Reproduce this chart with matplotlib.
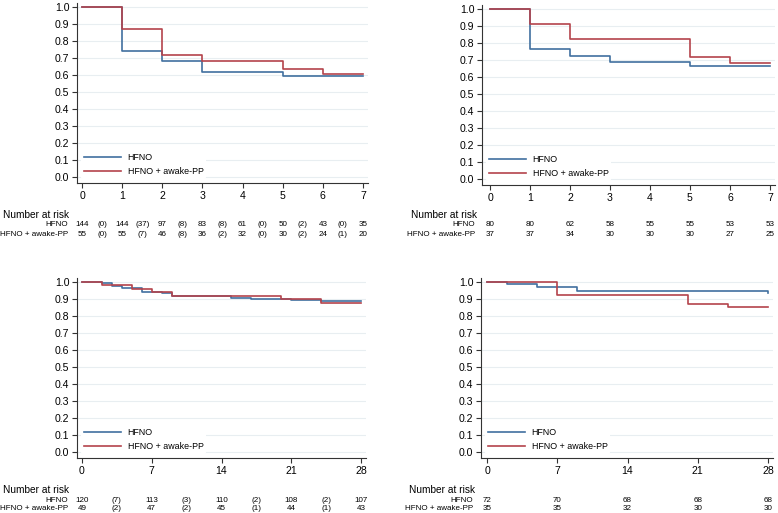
import matplotlib
matplotlib.use("Agg")
from matplotlib import pyplot as plt
from matplotlib.transforms import blended_transform_factory

plt.rcParams["font.family"] = ["Liberation Sans", "DejaVu Sans"]

# ---- survival curves (time, survival) ----
tl_t_hfno = [0, 1, 2, 3, 5, 7]
tl_s_hfno = [1.0, 0.743, 0.681, 0.616, 0.592, 0.592]
tl_t_pp = [0, 1, 2, 3, 5, 6, 7]
tl_s_pp = [1.0, 0.873, 0.721, 0.681, 0.636, 0.609, 0.609]

tr_t_hfno = [0, 1, 2, 3, 5, 7]
tr_s_hfno = [1.0, 0.767, 0.724, 0.690, 0.663, 0.663]
tr_t_pp = [0, 1, 2, 5, 6, 7]
tr_s_pp = [1.0, 0.912, 0.824, 0.716, 0.684, 0.684]

bl_t_hfno = [0, 2, 3, 4, 6, 8, 9, 15, 17, 21, 24, 28]
bl_s_hfno = [1.0, 0.992, 0.975, 0.967, 0.942, 0.933, 0.917, 0.908, 0.901, 0.894, 0.888, 0.888]
bl_t_pp = [0, 2, 5, 7, 9, 20, 24, 28]
bl_s_pp = [1.0, 0.980, 0.959, 0.939, 0.918, 0.898, 0.878, 0.878]

br_t_hfno = [0, 2, 5, 9, 28]
br_s_hfno = [1.0, 0.986, 0.972, 0.946, 0.938]
br_t_pp = [0, 7, 20, 24, 28]
br_s_pp = [1.0, 0.926, 0.871, 0.852, 0.852]

# ---- number at risk tables ----
tl_risk_x = [i * 0.5 for i in range(15)]
tl_risk_hfno = ["144", "(0)", "144", "(37)", "97", "(8)", "83", "(8)", "61", "(0)", "50", "(2)", "43", "(0)", "35"]
tl_risk_pp = ["55", "(0)", "55", "(7)", "46", "(8)", "36", "(2)", "32", "(0)", "30", "(2)", "24", "(1)", "20"]

tr_risk_x = [0, 1, 2, 3, 4, 5, 6, 7]
tr_risk_hfno = ["80", "80", "62", "58", "55", "55", "53", "53"]
tr_risk_pp = ["37", "37", "34", "30", "30", "30", "27", "25"]

bl_risk_x = [i * 3.5 for i in range(9)]
bl_risk_hfno = ["120", "(7)", "113", "(3)", "110", "(2)", "108", "(2)", "107"]
bl_risk_pp = ["49", "(2)", "47", "(2)", "45", "(1)", "44", "(1)", "43"]

br_risk_x = [0, 7, 14, 21, 28]
br_risk_hfno = ["72", "70", "68", "68", "68"]
br_risk_pp = ["35", "35", "32", "30", "30"]

labels = ["HFNO", "HFNO + awake-PP"]
BLUE = "#41709f"
RED = "#b4434c"
GRID = "#e8eef1"

W, H = 778, 513
fig = plt.figure(figsize=(W / 100, H / 100), dpi=100)


def px_axes(left, top, right, bottom):
    return fig.add_axes([left / W, 1 - bottom / H, (right - left) / W, (bottom - top) / H])


def panel(box, xlim, xticks, curves, risk_x, risk_rows, risk_y, lab_left, lab_right):
    ax = px_axes(*box)
    (t1, s1), (t2, s2) = curves
    ax.step(t1, s1, where="post", color=BLUE, lw=1.2, label=labels[0], zorder=3)
    ax.step(t2, s2, where="post", color=RED, lw=1.2, label=labels[1], zorder=3)
    ax.set_xlim(*xlim)
    ax.set_ylim(-0.035, 1.024)
    ax.set_yticks([i / 10 for i in range(11)])
    ax.set_yticklabels(["%.1f" % (i / 10) for i in range(11)])
    ax.set_xticks(xticks)
    for s in ["top", "right"]:
        ax.spines[s].set_visible(False)
    for s in ["left", "bottom"]:
        ax.spines[s].set_color("#333333")
        ax.spines[s].set_linewidth(0.8)
    ax.tick_params(labelsize=7.6, length=3.5, width=0.8, color="#333333", pad=2)
    ax.yaxis.grid(True, color=GRID, lw=0.8)
    ax.set_axisbelow(True)
    leg = ax.legend(loc="lower left", bbox_to_anchor=(0.0, 0.0), frameon=True,
                    fontsize=6.4, handlelength=4.2, handletextpad=0.7, labelspacing=0.55,
                    borderpad=0.3)
    leg.get_frame().set_edgecolor("none")
    leg.get_frame().set_facecolor("white")
    leg.get_frame().set_alpha(1)

    tr = blended_transform_factory(ax.transData, fig.transFigure)
    y0, y1, y2 = risk_y
    fig.text(lab_left / W, 1 - y0 / H, "Number at risk", fontsize=7.3, va="center", ha="left")
    for row, yy, name in zip(risk_rows, [y1, y2], labels):
        fig.text(lab_right / W, 1 - yy / H, name, fontsize=5.8, va="center", ha="right")
        for x, v in zip(risk_x, row):
            ax.text(x, 1 - yy / H, v, transform=tr, fontsize=5.8, va="center", ha="center")
    return ax


panel((77, 3, 368, 183), (-0.125, 7.125), range(8),
      [(tl_t_hfno, tl_s_hfno), (tl_t_pp, tl_s_pp)],
      tl_risk_x, [tl_risk_hfno, tl_risk_pp], (215, 225, 234), 3, 68)

panel((482, 5, 775, 185), (-0.2, 7.125), range(8),
      [(tr_t_hfno, tr_s_hfno), (tr_t_pp, tr_s_pp)],
      tr_risk_x, [tr_risk_hfno, tr_risk_pp], (215, 225, 234), 411, 475)

panel((77, 278, 366, 458), (-0.5, 28.5), [0, 7, 14, 21, 28],
      [(bl_t_hfno, bl_s_hfno), (bl_t_pp, bl_s_pp)],
      bl_risk_x, [bl_risk_hfno, bl_risk_pp], (490, 500, 509), 3, 68)

panel((481, 278, 773, 458), (-0.6, 28.5), [0, 7, 14, 21, 28],
      [(br_t_hfno, br_s_hfno), (br_t_pp, br_s_pp)],
      br_risk_x, [br_risk_hfno, br_risk_pp], (490, 500, 509), 409, 473)

fig.savefig("out.png", dpi=100)
